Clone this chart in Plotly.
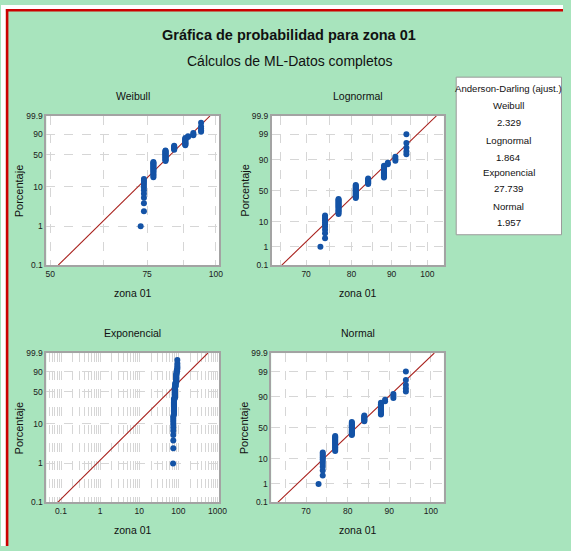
import numpy as np
import plotly.graph_objects as go
from statistics import NormalDist

# Observed values of "zona 01" and how many times each one occurs
zona_values = [73, 74, 77, 81, 84, 88, 89, 91, 94]
zona_counts = [1, 10, 15, 16, 7, 11, 2, 3, 5]

# Probability tick labels (percent)
prob_ticks_weib = [0.1, 1, 10, 50, 90, 99.9]
prob_ticks_norm = [0.1, 1, 10, 50, 90, 99, 99.9]

# Goodness-of-fit table
ad_title = "Anderson-Darling (ajust.)"
ad_names = ["Weibull", "Lognormal", "Exponencial", "Normal"]
ad_values = ["2.329", "1.864", "27.739", "1.957"]

W, H = 571, 551
FONT = "Liberation Sans, Arial, sans-serif"
BG = "#a8e4bd"
BLUE = "#1453a6"
RED = "#a8201c"
GRID = "#d6d6d6"
FRAME = "#a3a3a3"


def px(x):
    return x / W


def py(y):
    return 1 - y / H


nd = NormalDist()


def t_weib(p):
    p = np.asarray(p, dtype=float) / 100.0
    return np.log(-np.log(1 - p))


def t_norm(p):
    return np.array([nd.inv_cdf(v / 100.0) for v in np.atleast_1d(p)])


# Sample and median-rank plotting positions
obs = np.repeat(np.array(zona_values, dtype=float), zona_counts)
n = len(obs)
ranks = np.arange(1, n + 1)
pct = (ranks - 0.3) / (n + 0.4) * 100

# Maximum-likelihood fits
mu, sd = obs.mean(), obs.std()
lobs = np.log(obs)
lmu, lsd = lobs.mean(), lobs.std()
theta = obs.mean()


def weib_eq(k):
    xk = obs ** k
    return 1.0 / k + lobs.mean() - np.sum(xk * lobs) / np.sum(xk)


lo, hi = 0.1, 200.0
for _ in range(200):
    mid = 0.5 * (lo + hi)
    if weib_eq(mid) > 0:
        lo = mid
    else:
        hi = mid
k_w = 0.5 * (lo + hi)
lam_w = np.mean(obs ** k_w) ** (1.0 / k_w)

yw = t_weib([0.1, 99.9])
yn = t_norm([0.1, 99.9])

line_weib_x = lam_w * np.exp(yw / k_w)
line_logn_x = np.exp(lmu + lsd * yn)
line_expo_x = theta * np.exp(yw)
line_norm_x = mu + sd * yn

fig = go.Figure()

panels = [
    ("", line_weib_x, yw, t_weib(pct)),
    ("2", line_logn_x, yn, t_norm(pct)),
    ("3", line_expo_x, yw, t_weib(pct)),
    ("4", line_norm_x, yn, t_norm(pct)),
]
for suffix, lx, ly, ypts in panels:
    fig.add_trace(go.Scatter(x=lx, y=ly, mode="lines",
                             line=dict(color=RED, width=1.1),
                             xaxis="x" + suffix, yaxis="y" + suffix,
                             showlegend=False, hoverinfo="skip"))
    fig.add_trace(go.Scatter(x=obs, y=ypts, mode="markers",
                             marker=dict(color=BLUE, size=6),
                             xaxis="x" + suffix, yaxis="y" + suffix,
                             showlegend=False))

tickfont = dict(family=FONT, size=8.5, color="#202020")


def axis_common():
    return dict(showgrid=True, gridcolor=GRID, griddash="dash", gridwidth=1,
                showline=True, mirror=True, linecolor=FRAME, linewidth=1.5,
                zeroline=False, ticks="", tickfont=tickfont, fixedrange=True)


# Panel frames in pixels: (x0, x1, y_top, y_bottom)
boxes = {
    "W": (46, 221.5, 113, 265),
    "L": (275, 450, 113, 265),
    "E": (46, 221.5, 354.5, 506.5),
    "N": (274.5, 450, 354.5, 506.5),
}

five_vals = [65, 70, 75, 80, 85, 90, 95, 100]
five_text = ["", "70", "", "80", "", "90", "", "100"]

expo_vals, expo_text = [], []
for e in range(-2, 4):
    for m in range(1, 10):
        v = m * 10.0 ** e
        if 0.042 <= v <= 1090:
            expo_vals.append(v)
            expo_text.append(("%g" % v) if m == 1 else "")

pw_text = [("%g" % v) for v in prob_ticks_weib]
pn_text = [("%g" % v) for v in prob_ticks_norm]

b = boxes["W"]
fig.update_layout(
    xaxis=dict(axis_common(), type="log", domain=[px(b[0]), px(b[1])],
               range=[1.6918, 2.0057], anchor="y",
               tickvals=[50, 62.5, 75, 87.5, 100],
               ticktext=["50", "", "75", "", "100"]),
    yaxis=dict(axis_common(), domain=[py(b[3]), py(b[2])], anchor="x",
               range=list(yw), tickvals=list(t_weib(prob_ticks_weib)),
               ticktext=pw_text),
)
b = boxes["L"]
fig.update_layout(
    xaxis2=dict(axis_common(), type="log", domain=[px(b[0]), px(b[1])],
                range=[1.8011, 2.021], anchor="y2",
                tickvals=five_vals, ticktext=five_text),
    yaxis2=dict(axis_common(), domain=[py(b[3]), py(b[2])], anchor="x2",
                range=list(yn), tickvals=list(t_norm(prob_ticks_norm)),
                ticktext=pn_text),
)
b = boxes["E"]
fig.update_layout(
    xaxis3=dict(axis_common(), type="log", domain=[px(b[0]), px(b[1])],
                range=[-1.377, 3.038], anchor="y3",
                tickvals=expo_vals, ticktext=expo_text),
    yaxis3=dict(axis_common(), domain=[py(b[3]), py(b[2])], anchor="x3",
                range=list(yw), tickvals=list(t_weib(prob_ticks_weib)),
                ticktext=pw_text),
)
b = boxes["N"]
fig.update_layout(
    xaxis4=dict(axis_common(), domain=[px(b[0]), px(b[1])],
                range=[61.6, 103.15], anchor="y4",
                tickvals=five_vals, ticktext=five_text),
    yaxis4=dict(axis_common(), domain=[py(b[3]), py(b[2])], anchor="x4",
                range=list(yn), tickvals=list(t_norm(prob_ticks_norm)),
                ticktext=pn_text),
)

annotations = []


def text_at(x, y, s, size, angle=0, bold=False, color="#111111"):
    annotations.append(dict(
        x=px(x), y=py(y), xref="paper", yref="paper",
        text=("<b>%s</b>" % s) if bold else s,
        showarrow=False, xanchor="center", yanchor="middle", textangle=angle,
        font=dict(family=FONT, size=size, color=color)))


text_at(293, 31, "Gráfica de probabilidad para zona 01", 14.5, bold=True)
text_at(293, 57, "Cálculos de ML-Datos completos", 14)

panel_titles = {"W": "Weibull", "L": "Lognormal", "E": "Exponencial", "N": "Normal"}
for key, (x0, x1, yt, yb) in boxes.items():
    cx = 0.5 * (x0 + x1)
    cy = 0.5 * (yt + yb)
    text_at(cx, yt - 20, panel_titles[key], 10.5)
    text_at(cx, yb + 28, "zona 01", 10.5)
    text_at(x0 - 28, cy, "Porcentaje", 11, angle=-90)

# Goodness-of-fit box contents
legend_lines = [ad_title]
for name, val in zip(ad_names, ad_values):
    legend_lines += [name, val]
legend_y = [85, 102, 120, 138, 155, 171, 187, 205, 222]
for s, y in zip(legend_lines, legend_y):
    text_at(516, y, s, 9.6)

shapes = [
    # white margin outside the red frame
    dict(type="rect", xref="paper", yref="paper", x0=0, x1=px(5), y0=0, y1=1,
         fillcolor="white", line=dict(width=0), layer="below"),
    dict(type="rect", xref="paper", yref="paper", x0=0, x1=1, y0=py(4.2), y1=1,
         fillcolor="white", line=dict(width=0), layer="below"),
    # red frame (left and top)
    dict(type="line", xref="paper", yref="paper", x0=px(6.2), x1=px(6.2),
         y0=0, y1=py(4.2), line=dict(color="#cc0000", width=2.6)),
    dict(type="line", xref="paper", yref="paper", x0=px(5), x1=1,
         y0=py(5.4), y1=py(5.4), line=dict(color="#cc0000", width=2.6)),
    # statistics box
    dict(type="rect", xref="paper", yref="paper", x0=px(462.5), x1=px(569.5),
         y0=py(234), y1=py(73.5), fillcolor="white",
         line=dict(color="#9a9a9a", width=1), layer="below"),
]

fig.update_layout(
    width=W, height=H, autosize=False,
    margin=dict(l=0, r=0, t=0, b=0),
    paper_bgcolor=BG, plot_bgcolor="white",
    font=dict(family=FONT, color="#111111"),
    annotations=annotations, shapes=shapes, showlegend=False,
)

fig.write_html("out.html", config={"displayModeBar": False})
